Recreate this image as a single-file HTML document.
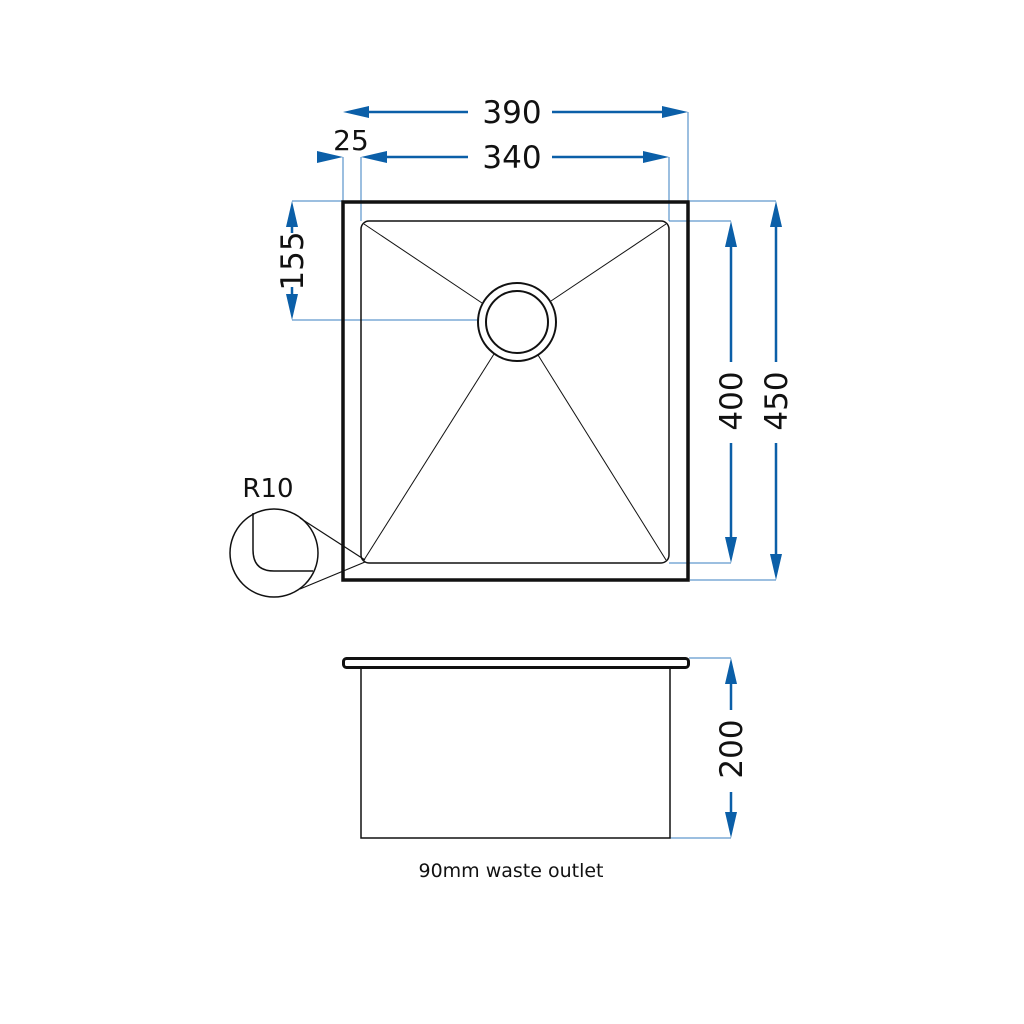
<!DOCTYPE html>
<html><head><meta charset="utf-8"><style>
html,body{margin:0;padding:0;background:#fff;}
svg{display:block;}
text{font-family:"DejaVu Sans","Liberation Sans",sans-serif;font-weight:normal;fill:#111;}
</style></head><body>
<svg width="1024" height="1024" viewBox="0 0 1024 1024" xmlns="http://www.w3.org/2000/svg">
<rect width="1024" height="1024" fill="#fff"/>
<defs>
<g id="ah"><polygon points="0,0 26,-6 26,6" fill="#0b5fa8"/></g>
</defs>
<g stroke="#3a7fc0" stroke-width="1" fill="none">
<line x1="688" y1="112" x2="688" y2="202"/>
<line x1="343" y1="157" x2="343" y2="202"/>
<line x1="361" y1="157" x2="361" y2="221"/>
<line x1="669" y1="157" x2="669" y2="221"/>
<line x1="292" y1="201" x2="343" y2="201"/>
<line x1="292" y1="320" x2="478" y2="320"/>
<line x1="669" y1="221" x2="731" y2="221"/>
<line x1="669" y1="563" x2="731" y2="563"/>
<line x1="690" y1="201" x2="776" y2="201"/>
<line x1="690" y1="580" x2="776" y2="580"/>
<line x1="689" y1="658" x2="731" y2="658"/>
<line x1="670" y1="838" x2="731" y2="838"/>
</g>
<g stroke="#0b5fa8" stroke-width="2.5" fill="none">
<line x1="360" y1="112" x2="468" y2="112"/>
<line x1="552" y1="112" x2="670" y2="112"/>
<line x1="378" y1="157" x2="468" y2="157"/>
<line x1="552" y1="157" x2="652" y2="157"/>
<line x1="292" y1="215" x2="292" y2="233"/>
<line x1="292" y1="287" x2="292" y2="305"/>
<line x1="731" y1="235" x2="731" y2="362"/>
<line x1="731" y1="443" x2="731" y2="548"/>
<line x1="776" y1="215" x2="776" y2="362"/>
<line x1="776" y1="443" x2="776" y2="565"/>
<line x1="731" y1="672" x2="731" y2="710"/>
<line x1="731" y1="792" x2="731" y2="824"/>
</g>
<g>
<use href="#ah" transform="translate(343,112)"/>
<use href="#ah" transform="translate(688,112) rotate(180)"/>
<use href="#ah" transform="translate(361,157)"/>
<use href="#ah" transform="translate(669,157) rotate(180)"/>
<use href="#ah" transform="translate(343,157) rotate(180)"/>
<use href="#ah" transform="translate(292,201) rotate(90)"/>
<use href="#ah" transform="translate(292,320) rotate(-90)"/>
<use href="#ah" transform="translate(731,221) rotate(90)"/>
<use href="#ah" transform="translate(731,563) rotate(-90)"/>
<use href="#ah" transform="translate(776,201) rotate(90)"/>
<use href="#ah" transform="translate(776,580) rotate(-90)"/>
<use href="#ah" transform="translate(731,658) rotate(90)"/>
<use href="#ah" transform="translate(731,838) rotate(-90)"/>
</g>
<text x="512" y="123" font-size="31" text-anchor="middle">390</text>
<text x="512" y="168" font-size="31" text-anchor="middle">340</text>
<text x="351" y="150" font-size="28" text-anchor="middle">25</text>
<text transform="translate(303,261) rotate(-90)" font-size="31" text-anchor="middle">155</text>
<text transform="translate(742,401) rotate(-90)" font-size="31" text-anchor="middle">400</text>
<text transform="translate(787,401) rotate(-90)" font-size="31" text-anchor="middle">450</text>
<text transform="translate(742,749) rotate(-90)" font-size="31" text-anchor="middle">200</text>
<text x="268" y="497" font-size="26" text-anchor="middle">R10</text>
<text x="511" y="877" font-size="19" text-anchor="middle">90mm waste outlet</text>
<g fill="none" stroke="#111">
<rect x="343" y="202" width="345" height="378" stroke-width="3.5"/>
<rect x="361" y="221" width="308" height="342" rx="8" stroke-width="1.5"/>
<circle cx="517" cy="322" r="39" stroke-width="2"/>
<circle cx="517" cy="322" r="31" stroke-width="2"/>
<g stroke-width="1">
<line x1="364" y1="224" x2="482" y2="303"/>
<line x1="666" y1="224" x2="551" y2="301"/>
<line x1="364" y1="560" x2="494" y2="354"/>
<line x1="666" y1="560" x2="538" y2="355"/>
</g>
<circle cx="274" cy="553" r="44" stroke-width="1.5"/>
<path d="M253 513 V550 Q253 571 274 571 H313" stroke-width="1.5"/>
<line x1="300" y1="518" x2="365" y2="560" stroke-width="1.2"/>
<line x1="300" y1="589" x2="365" y2="562" stroke-width="1.2"/>
<rect x="343.5" y="658.5" width="345" height="9" rx="3" stroke-width="3"/>
<rect x="361" y="668" width="309" height="170" stroke-width="1.5"/>
</g>
</svg>
</body></html>
